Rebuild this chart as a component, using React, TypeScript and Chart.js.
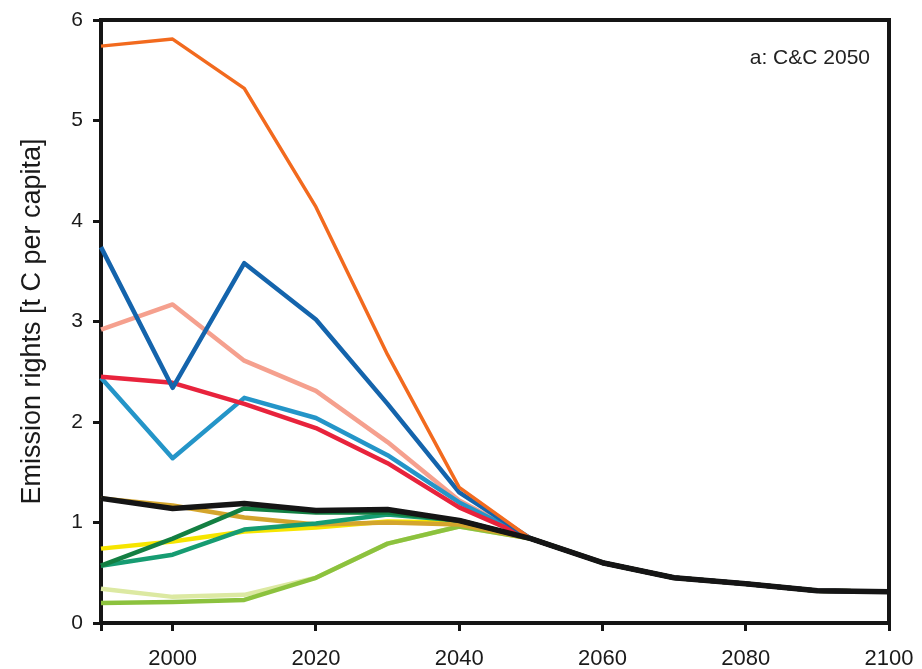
import React, { useEffect, useRef } from "react";
import { Chart, registerables } from "chart.js";

Chart.register(...registerables);

const YEARS = [1990, 2000, 2010, 2020, 2030, 2040, 2050, 2060, 2070, 2080, 2090, 2100];
const X_TICKS = [1990, 2000, 2020, 2040, 2060, 2080, 2100];
const Y_TICKS = [0, 1, 2, 3, 4, 5, 6];

const BLACK = [1.24, 1.14, 1.19, 1.12, 1.13, 1.02, 0.84, 0.6, 0.45, 0.39, 0.32, 0.31];
const ORANGE = [5.74, 5.81, 5.32, 4.14, 2.67, 1.35, 0.84, 0.6, 0.45, 0.39, 0.32, 0.31];
const DARK_BLUE = [3.74, 2.34, 3.58, 3.02, 2.18, 1.3, 0.84, 0.6, 0.45, 0.39, 0.32, 0.31];
const SALMON = [2.92, 3.17, 2.61, 2.31, 1.8, 1.22, 0.84, 0.6, 0.45, 0.39, 0.32, 0.31];
const RED = [2.45, 2.39, 2.18, 1.94, 1.59, 1.15, 0.84, 0.6, 0.45, 0.39, 0.32, 0.31];
const LIGHT_BLUE = [2.44, 1.64, 2.24, 2.04, 1.67, 1.2, 0.84, 0.6, 0.45, 0.39, 0.32, 0.31];
const DARK_GREEN = [0.57, 0.84, 1.14, 1.1, 1.1, 1.02, 0.84, 0.6, 0.45, 0.39, 0.32, 0.31];
const TEAL = [0.57, 0.68, 0.93, 0.99, 1.08, 1.02, 0.84, 0.6, 0.45, 0.39, 0.32, 0.31];
const GOLD = [1.24, 1.17, 1.05, 0.98, 1.0, 0.98, 0.84, 0.6, 0.45, 0.39, 0.32, 0.31];
const YELLOW = [0.74, 0.81, 0.91, 0.95, 1.01, 1.0, 0.84, 0.6, 0.45, 0.39, 0.32, 0.31];
const YELLOW_GREEN = [0.2, 0.21, 0.23, 0.45, 0.79, 0.96, 0.84, 0.6, 0.45, 0.39, 0.32, 0.31];
const PALE_GREEN = [0.34, 0.26, 0.28, 0.45, 0.79, 0.96, 0.84, 0.6, 0.45, 0.39, 0.32, 0.31];

const SERIES: { name: string; values: number[]; color: string; width: number }[] = [
  { name: "black", values: BLACK, color: "#151515", width: 5.5 },
  { name: "orange", values: ORANGE, color: "#F26A1E", width: 3.5 },
  { name: "darkBlue", values: DARK_BLUE, color: "#1464AC", width: 4.5 },
  { name: "red", values: RED, color: "#E8233C", width: 4.5 },
  { name: "lightBlue", values: LIGHT_BLUE, color: "#2495C8", width: 4.5 },
  { name: "salmon", values: SALMON, color: "#F5A08E", width: 4.5 },
  { name: "darkGreen", values: DARK_GREEN, color: "#137F42", width: 4.5 },
  { name: "teal", values: TEAL, color: "#169C72", width: 4.5 },
  { name: "gold", values: GOLD, color: "#D4A52C", width: 4.5 },
  { name: "yellow", values: YELLOW, color: "#F6E500", width: 4.5 },
  { name: "yellowGreen", values: YELLOW_GREEN, color: "#8CC23E", width: 4.5 },
  { name: "paleGreen", values: PALE_GREEN, color: "#DCE9A2", width: 4.5 },
];

const PANEL_LABEL = "a: C&C 2050";
const Y_TITLE = "Emission rights [t C per capita]";
const FONT = "'Liberation Sans', Arial, Helvetica, sans-serif";

const framePlugin = {
  id: "frame",
  afterDraw(chart: any) {
    const { ctx, chartArea } = chart;
    ctx.save();
    ctx.strokeStyle = "#151515";
    ctx.lineWidth = 4;
    ctx.beginPath();
    ctx.moveTo(chartArea.left, chartArea.top);
    ctx.lineTo(chartArea.right, chartArea.top);
    ctx.lineTo(chartArea.right, chartArea.bottom);
    ctx.stroke();
    ctx.fillStyle = "#222";
    ctx.font = `21px ${FONT}`;
    ctx.textAlign = "right";
    ctx.textBaseline = "middle";
    ctx.fillText(PANEL_LABEL, chartArea.right - 19, chartArea.top + 38);
    ctx.restore();
  },
};

export default function App() {
  const ref = useRef<HTMLCanvasElement | null>(null);
  useEffect(() => {
    if (!ref.current) return;
    const chart = new Chart(ref.current, {
      type: "line",
      data: {
        datasets: SERIES.map((s) => ({
          label: s.name,
          data: YEARS.map((y, i) => ({ x: y, y: s.values[i] })),
          borderColor: s.color,
          backgroundColor: s.color,
          borderWidth: s.width,
          pointRadius: 0,
          tension: 0,
          borderJoinStyle: "round" as const,
          clip: 3,
        })),
      },
      options: {
        animation: false,
        responsive: false,
        devicePixelRatio: 1,
        layout: { padding: { top: 20, right: 33, left: 0, bottom: 0 } },
        plugins: { legend: { display: false }, tooltip: { enabled: false } },
        scales: {
          x: {
            type: "linear",
            min: 1990,
            max: 2100,
            afterBuildTicks: (axis: any) => {
              axis.ticks = X_TICKS.map((v) => ({ value: v }));
            },
            afterFit: (axis: any) => {
              axis.height = 46;
              axis.paddingLeft = 0;
              axis.paddingRight = 0;
            },
            grid: {
              drawOnChartArea: false,
              drawTicks: true,
              tickLength: 8,
              lineWidth: 3,
              color: "#151515",
            },
            border: { display: true, width: 4, color: "#151515" },
            ticks: {
              padding: 15,
              color: "#1a1a1a",
              font: { family: FONT, size: 22 },
              maxRotation: 0,
              callback: (v: any) => (v === 1990 ? "" : String(v)),
            },
          },
          y: {
            type: "linear",
            min: 0,
            max: 6,
            afterBuildTicks: (axis: any) => {
              axis.ticks = Y_TICKS.map((v) => ({ value: v }));
            },
            afterFit: (axis: any) => {
              axis.width = 101;
              axis.paddingTop = 0;
              axis.paddingBottom = 0;
            },
            grid: {
              drawOnChartArea: false,
              drawTicks: true,
              tickLength: 8,
              lineWidth: 3,
              color: "#151515",
            },
            border: { display: true, width: 4, color: "#151515" },
            ticks: {
              padding: 10,
              color: "#1a1a1a",
              font: { family: FONT, size: 21 },
            },
            title: {
              display: true,
              text: Y_TITLE,
              color: "#1a1a1a",
              font: { family: FONT, size: 27, lineHeight: 1.2 },
              padding: { top: 16, bottom: 0 },
            },
          },
        },
      },
      plugins: [framePlugin],
    });
    return () => chart.destroy();
  }, []);

  return (
    <div style={{ position: "absolute", left: 0, top: 0, width: 922, height: 669, background: "#fff" }}>
      <canvas ref={ref} width={922} height={669} style={{ width: 922, height: 669 }} />
    </div>
  );
}
